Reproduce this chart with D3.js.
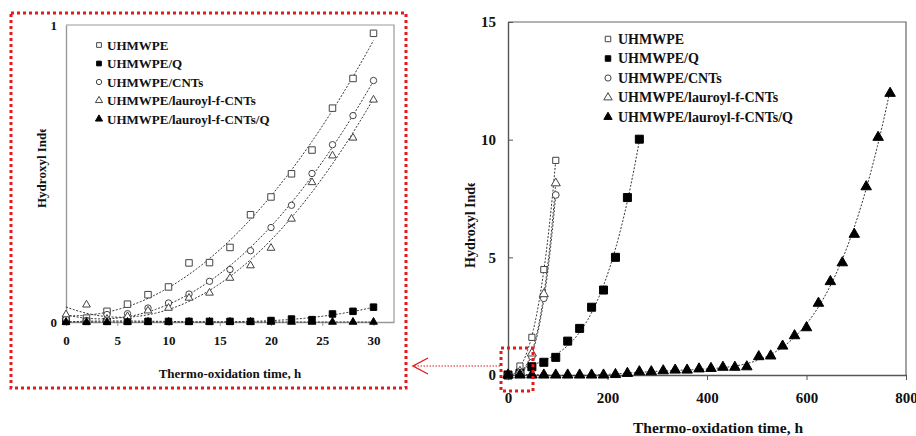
<!DOCTYPE html>
<html>
<head>
<meta charset="utf-8">
<script src="https://cdn.jsdelivr.net/npm/d3@7"></script>
<style>
    body { margin: 0; background: #fff; }
    svg { display: block; font-family: "Liberation Serif", "Times New Roman", serif; font-weight: bold; }
    .tick text { font-family: "Liberation Serif", serif; font-weight: bold; }
</style>
</head>
<body>
<svg id="chart" width="916" height="436"></svg>
<script>
//----------------------------//
//            DATA            //
//----------------------------//
const seriesNames = ["UHMWPE", "UHMWPE/Q", "UHMWPE/CNTs", "UHMWPE/lauroyl-f-CNTs", "UHMWPE/lauroyl-f-CNTs/Q"];

// zoomed view, 0-30 h
const zoomTime = [0, 2, 4, 6, 8, 10, 12, 14, 16, 18, 20, 22, 24, 26, 28, 30];
const zoomUhmwpe = [0.01, 0.013, 0.036, 0.06, 0.092, 0.118, 0.199, 0.2, 0.251, 0.361, 0.421, 0.499, 0.579, 0.72, 0.82, 0.972];
const zoomUhmwpeQ = [0.002, 0.002, 0.002, 0.002, 0.002, 0.002, 0.002, 0.002, 0.002, 0.002, 0.005, 0.01, 0.008, 0.027, 0.036, 0.05];
const zoomCnts = [0.01, 0.005, 0.025, 0.028, 0.047, 0.064, 0.094, 0.137, 0.177, 0.24, 0.318, 0.393, 0.5, 0.597, 0.695, 0.813];
const zoomLauroyl = [0.025, 0.058, 0.01, 0.019, 0.038, 0.047, 0.081, 0.098, 0.148, 0.19, 0.249, 0.347, 0.47, 0.56, 0.62, 0.748];
const zoomLauroylQ = [0, 0, 0, 0, 0, 0, 0, 0, 0, 0, 0, 0, 0, 0, 0, 0];

// full view, 0-800 h
const fullTimeShort = [0, 24, 48, 72, 96];
const fullUhmwpe = [0, 0.38, 1.6, 4.48, 9.12];
const fullCnts = [0, 0.1, 0.78, 3.26, 7.65];
const fullLauroyl = [0, 0.15, 0.92, 3.44, 8.15];
const fullTimeQ = [0, 24, 48, 72, 96, 120, 144, 168, 192, 216, 240, 264];
const fullUhmwpeQ = [0, 0.07, 0.35, 0.54, 0.75, 1.44, 1.98, 2.88, 3.61, 5.0, 7.54, 10.02];
const fullTimeLQ = [0, 24, 48, 72, 96, 120, 144, 168, 192, 216, 240, 264, 288, 312, 336, 360, 384,
    408, 432, 456, 480, 504, 528, 552, 576, 600, 624, 648, 672, 696, 720, 744, 768];
const fullLauroylQ = [0, 0, 0, 0, 0, 0, 0, 0, 0, 0.02, 0.07, 0.14, 0.14, 0.18, 0.21, 0.21, 0.26,
    0.28, 0.33, 0.33, 0.35, 0.78, 0.81, 1.23, 1.67, 2.01, 3.05, 3.97, 4.77, 5.98, 8.0, 10.1, 11.97];

// tick labels
const zoomXTicks = [0, 5, 10, 15, 20, 25, 30];
const zoomYTicks = [0, 1];
const fullXTicks = [0, 200, 400, 600, 800];
const fullYTicks = [0, 5, 10, 15];

// --- Helpers ---
function polyFit(xs, ys, degree) {
    const xmax = d3.max(xs) || 1;
    const n = degree + 1;
    const A = Array.from({ length: n }, () => new Array(n + 1).fill(0));
    xs.forEach((x, k) => {
        const t = x / xmax;
        for (let i = 0; i < n; i++) {
            for (let j = 0; j < n; j++) A[i][j] += Math.pow(t, i + j);
            A[i][n] += ys[k] * Math.pow(t, i);
        }
    });
    // gauss elimination
    for (let i = 0; i < n; i++) {
        let p = i;
        for (let r = i + 1; r < n; r++) if (Math.abs(A[r][i]) > Math.abs(A[p][i])) p = r;
        [A[i], A[p]] = [A[p], A[i]];
        for (let r = i + 1; r < n; r++) {
            const f = A[r][i] / A[i][i];
            for (let c = i; c <= n; c++) A[r][c] -= f * A[i][c];
        }
    }
    const coef = new Array(n).fill(0);
    for (let i = n - 1; i >= 0; i--) {
        let s = A[i][n];
        for (let j = i + 1; j < n; j++) s -= A[i][j] * coef[j];
        coef[i] = s / A[i][i];
    }
    return x => coef.reduce((s, c, i) => s + c * Math.pow(x / xmax, i), 0);
}

const shapes = {
    square: d3.symbolSquare,
    circle: d3.symbolCircle,
    triangle: d3.symbolTriangle
};

function drawPanel(svg, cfg) {
    const g = svg.append('g');
    const x = d3.scaleLinear().domain(cfg.xDomain).range([cfg.left, cfg.right]);
    const y = d3.scaleLinear().domain(cfg.yDomain).range([cfg.bottom, cfg.top]);

    // plot frame
    g.append('path')
        .attr('d', `M${cfg.left},${cfg.top}H${cfg.right}V${cfg.bottom}`)
        .attr('fill', 'none')
        .attr('stroke', cfg.frameColor)
        .attr('stroke-width', 1.2);

    const xAxis = g.append('g')
        .attr('transform', `translate(0,${cfg.bottom})`)
        .call(d3.axisBottom(x).tickValues(cfg.xTicks).tickFormat(d3.format('d'))
            .tickSizeInner(cfg.xTickSize).tickSizeOuter(0).tickPadding(cfg.xPad));
    const yAxis = g.append('g')
        .attr('transform', `translate(${cfg.left},0)`)
        .call(d3.axisLeft(y).tickValues(cfg.yTicks).tickFormat(d3.format('d'))
            .tickSizeInner(cfg.yTickSize).tickSizeOuter(0).tickPadding(cfg.yPad));
    [xAxis, yAxis].forEach(a => {
        a.attr('font-family', null).attr('font-size', null);
        a.select('.domain').attr('stroke', cfg.axisColor).attr('stroke-width', 1.4);
        a.selectAll('.tick line').attr('stroke', cfg.axisColor);
        a.selectAll('text')
            .attr('fill', '#111')
            .style('font-size', cfg.tickFont + 'px');
    });

    // trend lines
    const line = d3.line().x(d => x(d[0])).y(d => y(d[1]));
    cfg.series.forEach(s => {
        const f = polyFit(s.t, s.v, s.deg);
        const x0 = d3.min(s.t), x1 = d3.max(s.t);
        const pts = d3.range(0, 121).map(i => {
            const xv = x0 + (x1 - x0) * i / 120;
            return [xv, f(xv)];
        }).filter(p => p[1] >= cfg.yDomain[0] - 0.5 && p[1] <= cfg.yDomain[1]);
        g.append('path')
            .datum(pts)
            .attr('fill', 'none')
            .attr('stroke', '#333')
            .attr('stroke-width', 1)
            .attr('stroke-dasharray', '2,1.6')
            .attr('d', line);
    });

    // markers
    cfg.series.forEach(s => {
        g.selectAll(null)
            .data(s.t.map((t, i) => [t, s.v[i]]))
            .enter()
            .append('path')
            .attr('transform', d => `translate(${x(d[0])},${y(d[1])})`)
            .attr('d', d3.symbol().type(shapes[s.shape]).size(s.size))
            .attr('fill', s.filled ? '#000' : '#fff')
            .attr('stroke', s.filled ? '#000' : '#444')
            .attr('stroke-width', 1);
    });

    // legend
    const lg = g.append('g');
    cfg.series.forEach((s, i) => {
        const yy = cfg.legY + i * cfg.legStep;
        lg.append('path')
            .attr('transform', `translate(${cfg.legX},${yy})`)
            .attr('d', d3.symbol().type(shapes[s.shape]).size(cfg.legSym))
            .attr('fill', s.filled ? '#000' : '#fff')
            .attr('stroke', s.filled ? '#000' : '#444')
            .attr('stroke-width', 1);
        lg.append('text')
            .attr('x', cfg.legX + cfg.legGap)
            .attr('y', yy)
            .attr('dy', '0.35em')
            .style('font-size', cfg.legFont + 'px')
            .attr('fill', '#111')
            .text(seriesNames[i]);
    });

    // axis titles
    g.append('text')
        .attr('x', cfg.xTitle[0])
        .attr('y', cfg.xTitle[1])
        .attr('text-anchor', 'middle')
        .style('font-size', cfg.titleFont + 'px')
        .attr('fill', '#111')
        .text('Thermo-oxidation time, h');

    // y title is cut at its top end, as in the source figure
    const clipId = 'clip-' + cfg.id;
    svg.append('clipPath').attr('id', clipId)
        .append('rect')
        .attr('x', cfg.yTitle[0] - 20).attr('y', cfg.yTitleClip)
        .attr('width', 40).attr('height', 300);
    g.append('g')
        .attr('clip-path', `url(#${clipId})`)
        .append('text')
        .attr('transform', `translate(${cfg.yTitle[0]},${cfg.yTitle[1]}) rotate(-90)`)
        .style('font-size', cfg.yTitleFont + 'px')
        .attr('fill', '#111')
        .text('Hydroxyl Index');

    return { x, y };
}

// --- Main Execution ---
const svg = d3.select('#chart');

drawPanel(svg, {
    id: 'zoom',
    left: 66, right: 394, top: 25, bottom: 322,
    xDomain: [0, 32], yDomain: [0, 1],
    xTicks: zoomXTicks, yTicks: zoomYTicks,
    xTickSize: 4, yTickSize: 0, xPad: 10, yPad: 9,
    frameColor: '#999', axisColor: '#999', tickFont: 13,
    legX: 99, legY: 45, legStep: 18.5, legGap: 8, legFont: 13, legSym: 22,
    titleFont: 13, xTitle: [230, 378],
    yTitleFont: 13, yTitle: [46, 208], yTitleClip: 129,
    series: [
        { t: zoomTime, v: zoomUhmwpe, shape: 'square', filled: false, size: 42, deg: 2 },
        { t: zoomTime, v: zoomUhmwpeQ, shape: 'square', filled: true, size: 42, deg: 3 },
        { t: zoomTime, v: zoomCnts, shape: 'circle', filled: false, size: 32, deg: 2 },
        { t: zoomTime, v: zoomLauroyl, shape: 'triangle', filled: false, size: 26, deg: 2 },
        { t: zoomTime, v: zoomLauroylQ, shape: 'triangle', filled: true, size: 26, deg: 1 }
    ]
});

drawPanel(svg, {
    id: 'full',
    left: 508, right: 906, top: 22, bottom: 375,
    xDomain: [0, 800], yDomain: [0, 15],
    xTicks: fullXTicks, yTicks: fullYTicks,
    xTickSize: 5, yTickSize: -5, xPad: 12, yPad: 12,
    frameColor: '#666', axisColor: '#555', tickFont: 15,
    legX: 608, legY: 39, legStep: 19.5, legGap: 10, legFont: 14, legSym: 30,
    titleFont: 15.5, xTitle: [718, 433],
    yTitleFont: 14, yTitle: [475, 268], yTitleClip: 183,
    series: [
        { t: fullTimeShort, v: fullUhmwpe, shape: 'square', filled: false, size: 38, deg: 3 },
        { t: fullTimeQ, v: fullUhmwpeQ, shape: 'square', filled: true, size: 64, deg: 3 },
        { t: fullTimeShort, v: fullCnts, shape: 'circle', filled: false, size: 36, deg: 3 },
        { t: fullTimeShort, v: fullLauroyl, shape: 'triangle', filled: false, size: 36, deg: 3 },
        { t: fullTimeLQ, v: fullLauroylQ, shape: 'triangle', filled: true, size: 48, deg: 6 }
    ]
});

// --- Zoom marker: red dotted boxes and arrow ---
const red = '#e41a1c';
const overlay = svg.append('g').attr('fill', 'none').attr('stroke', red);
overlay.append('rect')
    .attr('x', 11).attr('y', 13).attr('width', 395).attr('height', 375)
    .attr('stroke-width', 3).attr('stroke-dasharray', '3,3');
overlay.append('rect')
    .attr('x', 501).attr('y', 348).attr('width', 32).attr('height', 43)
    .attr('stroke-width', 3).attr('stroke-dasharray', '3,3');
overlay.append('line')
    .attr('x1', 500).attr('y1', 366).attr('x2', 413).attr('y2', 366)
    .attr('stroke-width', 1.2).attr('stroke-dasharray', '1.5,1.5');
overlay.append('path')
    .attr('d', 'M428,358L413,366L428,374')
    .attr('stroke-width', 1.4);
</script>
</body>
</html>
